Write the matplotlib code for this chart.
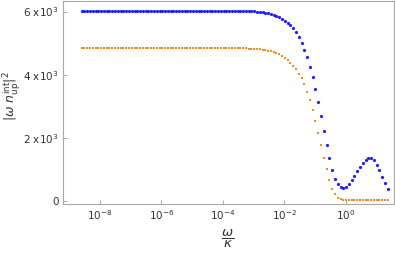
# -*- coding: utf-8 -*-
'''
|omega n_up^int|^2 versus omega/kappa, two dotted series on a log axis
'''

import numpy as np
import matplotlib
matplotlib.use("Agg")
import matplotlib.pyplot as plt

# sampling grid of omega/kappa (log10 of first and last point, count)
log_w_start = -8.595
log_w_end = 1.36
n_points = 111

# blue series (upper curve)
blue_vals = [6030] * 50 + [
    6030, 6030, 6029, 6029, 6028, 6027, 6026, 6025, 6023, 6021,
    6018, 6014, 6008, 6001, 5993, 5982, 5968, 5950, 5928, 5900,
    5865, 5822, 5770, 5710, 5640, 5560, 5465, 5350, 5208, 5017,
    4796, 4552, 4257, 3918, 3538, 3126, 2673, 2217, 1755, 1343,
    972, 697, 529, 424, 393, 443, 529, 656, 792, 931,
    1077, 1204, 1299, 1362, 1362, 1280, 1140, 972, 751, 551,
    361]

# orange series (lower curve)
orange_vals = [4846] * 50 + [
    4846, 4845, 4845, 4844, 4843, 4842, 4840, 4838, 4835, 4832,
    4828, 4822, 4815, 4807, 4798, 4787, 4773, 4756, 4735, 4710,
    4678, 4640, 4590, 4530, 4460, 4380, 4280, 4165, 4030, 3877,
    3687, 3453, 3180, 2873, 2524, 2154, 1755, 1362, 995, 646,
    386, 203, 95, 40, 24, 21, 20, 20, 20, 20,
    20, 20, 20, 20, 20, 20, 20, 20, 20, 20,
    20]

x_ticks = [1e-8, 1e-6, 1e-4, 1e-2, 1e0]
x_tick_labels = ['$10^{-8}$', '$10^{-6}$', '$10^{-4}$', '$10^{-2}$', '$10^{0}$']
y_ticks = [0, 2000, 4000, 6000]
y_tick_labels = ['0', '2 x10$^{3}$', '4 x10$^{3}$', '6 x10$^{3}$']

plt.rcParams['font.family'] = ['DejaVu Sans']
plt.rcParams['mathtext.fontset'] = 'dejavusans'

w = np.logspace(log_w_start, log_w_end, n_points)

fig = plt.figure(figsize=(3.95, 2.54), dpi=100)
ax = fig.add_axes([63 / 395, 50 / 254, 331 / 395, 203 / 254])

ax.plot(w, blue_vals, 'o', color='#1f1fff', ms=2.3, mew=0)
ax.plot(w, orange_vals, 's', color='#ff8a1c', ms=2.1, mew=0)

ax.set_xscale('log')
ax.set_xlim(10 ** -9.2, 10 ** 1.56)
ax.set_ylim(-105, 6335)

ax.set_xticks(x_ticks)
ax.set_xticklabels(x_tick_labels)
ax.minorticks_off()
ax.set_yticks(y_ticks)
ax.set_yticklabels(y_tick_labels)

frame_col = '#a8a8a8'
for s in ax.spines.values():
    s.set_color(frame_col)
    s.set_linewidth(0.8)
ax.tick_params(direction='in', length=3, width=0.7, color=frame_col,
               labelsize=7.5, labelcolor='#333333', pad=3)

# axis labels placed by hand, like the reference
fig.text(228 / 395, 1 - 239 / 254, r'$\dfrac{\omega}{\kappa}$', fontsize=9.5,
         color='#333333', ha='center', va='center')
fig.text(12 / 395, 1 - 96 / 254, r'$|\omega\ n_{\mathrm{up}}^{\mathrm{int}}|^2$',
         fontsize=9, color='#333333', ha='center', va='center', rotation=90)

fig.savefig('out.png', dpi=100)
